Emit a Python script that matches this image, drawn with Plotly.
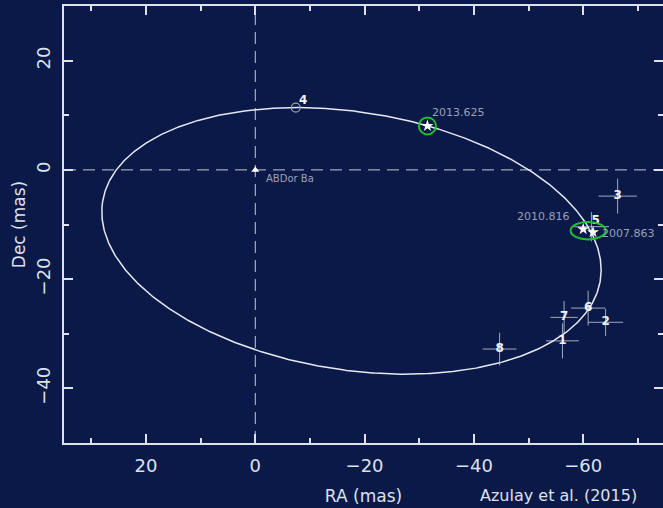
import numpy as np
import plotly.graph_objects as go

# ---- data (mas) ----
# numbered astrometric epochs with their uncertainties
epoch_labels = ["1", "2", "3", "5", "6", "7", "8"]
epoch_ra = [-56.2, -64.1, -66.3, -61.5, -60.9, -56.5, -44.7]
epoch_dec = [-31.3, -27.9, -4.8, -10.4, -25.3, -27.0, -32.8]
epoch_ra_err = [3.0, 3.2, 3.5, 3.2, 3.1, 2.5, 3.1]
epoch_dec_err = [3.2, 2.5, 3.2, 2.7, 3.2, 3.0, 3.0]
epoch_textpos = ["middle center", "middle center", "middle center", "top right",
                 "middle center", "middle center", "middle center"]

# epoch 4 (open circle)
ep4_label = "4"
ep4_ra = [-7.4]
ep4_dec = [11.4]

# VLBI detections (stars)
vlbi_labels = ["2013.625", "2010.816", "2007.863"]
vlbi_ra = [-31.5, -60.0, -61.8]
vlbi_dec = [8.05, -10.85, -11.4]

# primary
primary_label = "ABDor Ba"
primary_ra = [0.0]
primary_dec = [0.0]

# relative orbit (ellipse) parameters
orbit_center = (-17.6, -13.0)
orbit_a = 46.1
orbit_b = 23.6
orbit_tilt_deg = 9.0

# axis settings
ra_range = [35, -74.6]
dec_range = [-50, 30]
ra_ticks = [20, 0, -20, -40, -60]
dec_ticks = [20, 0, -20, -40]

BG = "#0a1947"
AX = "#dde1ec"
GREY = "#9aa0b6"
GREEN = "#22c02a"
FONT = "DejaVu Sans"

t = np.linspace(0, 2 * np.pi, 721)
th = np.radians(orbit_tilt_deg)
u = orbit_a * np.cos(t)
v = orbit_b * np.sin(t)
orb_ra = orbit_center[0] + u * np.cos(th) - v * np.sin(th)
orb_dec = orbit_center[1] + u * np.sin(th) + v * np.cos(th)

fig = go.Figure()

# orbit
fig.add_trace(go.Scatter(x=orb_ra, y=orb_dec, mode="lines",
                         line=dict(color="#e6e9f2", width=1.5),
                         hoverinfo="skip", showlegend=False))

# numbered epochs: error crosses + numbers
fig.add_trace(go.Scatter(
    x=epoch_ra, y=epoch_dec, mode="text", text=epoch_labels,
    textposition=epoch_textpos,
    textfont=dict(family=FONT, size=12, color="#f2f4fa", weight="bold"),
    error_x=dict(type="data", array=epoch_ra_err, color="rgba(200,205,222,0.8)",
                 thickness=1, width=0),
    error_y=dict(type="data", array=epoch_dec_err, color="rgba(200,205,222,0.8)",
                 thickness=1, width=0),
    showlegend=False))

# epoch 4
fig.add_trace(go.Scatter(
    x=ep4_ra, y=ep4_dec, mode="markers",
    marker=dict(symbol="circle-open", size=9, color=GREY, line=dict(width=1.2)),
    showlegend=False))
fig.add_annotation(x=ep4_ra[0], y=ep4_dec[0], text=ep4_label, showarrow=False,
                   xanchor="center", yanchor="middle", xshift=7, yshift=8,
                   font=dict(family=FONT, size=12, color="#f2f4fa", weight="bold"))

# primary
fig.add_trace(go.Scatter(
    x=primary_ra, y=primary_dec, mode="markers",
    marker=dict(symbol="triangle-up", size=7, color="white"),
    showlegend=False))

# green highlight around 2013.625
fig.add_trace(go.Scatter(
    x=vlbi_ra[:1], y=vlbi_dec[:1], mode="markers",
    marker=dict(symbol="circle-open", size=17, color=GREEN, line=dict(width=2)),
    showlegend=False))

# green ellipse around the 2007/2010 pair
pair_ra = (vlbi_ra[1] + vlbi_ra[2]) / 2
pair_dec = (vlbi_dec[1] + vlbi_dec[2]) / 2
fig.add_shape(type="circle", xref="x", yref="y",
              x0=pair_ra + 3.2, x1=pair_ra - 3.2,
              y0=pair_dec - 1.6, y1=pair_dec + 1.6,
              line=dict(color=GREEN, width=2))

# stars
fig.add_trace(go.Scatter(
    x=vlbi_ra, y=vlbi_dec, mode="markers",
    marker=dict(symbol="star", size=9, color="white"),
    showlegend=False))

# dashed reference lines through the primary
fig.add_shape(type="line", xref="x", yref="paper", x0=primary_ra[0], x1=primary_ra[0],
              y0=0, y1=1, line=dict(color="#c4c9d8", width=1, dash="12px,7px"),
              layer="below")
fig.add_shape(type="line", xref="paper", yref="y", x0=0, x1=1,
              y0=primary_dec[0], y1=primary_dec[0],
              line=dict(color="#c4c9d8", width=1, dash="12px,7px"), layer="below")

# text labels
lab_font = dict(family=FONT, size=11, color=GREY)
fig.add_annotation(x=vlbi_ra[0], y=vlbi_dec[0], text=vlbi_labels[0], showarrow=False,
                   xanchor="left", yanchor="middle", xshift=3, yshift=13, font=lab_font)
fig.add_annotation(x=vlbi_ra[1], y=vlbi_dec[1], text=vlbi_labels[1], showarrow=False,
                   xanchor="right", yanchor="middle", xshift=-11, yshift=13, font=lab_font)
fig.add_annotation(x=vlbi_ra[2], y=vlbi_dec[2], text=vlbi_labels[2], showarrow=False,
                   xanchor="left", yanchor="middle", xshift=7, yshift=-1, font=lab_font)
fig.add_annotation(x=primary_ra[0], y=primary_dec[0], text=primary_label, showarrow=False,
                   xanchor="left", yanchor="middle", xshift=9, yshift=-9,
                   font=dict(family=FONT, size=10, color=GREY))
fig.add_annotation(xref="paper", yref="paper", x=0.825, y=-0.121,
                   text="Azulay et al. (2015)", showarrow=False,
                   xanchor="center", yanchor="middle",
                   font=dict(family=FONT, size=16, color=AX))

# right-hand tick marks (no axis line)
fig.add_trace(go.Scatter(x=[None], y=[None], yaxis="y2", showlegend=False,
                         hoverinfo="skip"))

tick_common = dict(ticks="inside", tickcolor=AX, tickwidth=1.5, ticklen=9,
                   showgrid=False, zeroline=False)
minor_common = dict(dtick=10, tick0=0, ticks="inside", ticklen=5, tickwidth=1.5,
                    tickcolor=AX, showgrid=False)

fig.update_layout(
    width=663, height=508,
    margin=dict(l=64, r=0, t=6, b=65),
    paper_bgcolor=BG, plot_bgcolor=BG,
    showlegend=False,
    font=dict(family=FONT, color=AX),
    xaxis=dict(range=ra_range, autorange=False, showline=True, linecolor=AX,
               linewidth=2, mirror="ticks", tickvals=ra_ticks,
               minor=minor_common, ticklabelstandoff=5,
               tickfont=dict(family=FONT, size=18, color=AX),
               title=dict(text="RA (mas)", font=dict(family=FONT, size=17, color=AX),
                          standoff=16),
               **tick_common),
    yaxis=dict(range=dec_range, autorange=False, showline=True, linecolor=AX,
               linewidth=2, mirror=False, tickvals=dec_ticks, tickangle=-90,
               minor=minor_common, ticklabelstandoff=5,
               tickfont=dict(family=FONT, size=18, color=AX),
               title=dict(text="Dec (mas)", font=dict(family=FONT, size=17, color=AX),
                          standoff=3),
               **tick_common),
    yaxis2=dict(range=dec_range, autorange=False, overlaying="y", side="right",
                showline=False, showticklabels=False, tickvals=dec_ticks,
                minor=minor_common, **tick_common),
)

fig.write_html("out.html")
